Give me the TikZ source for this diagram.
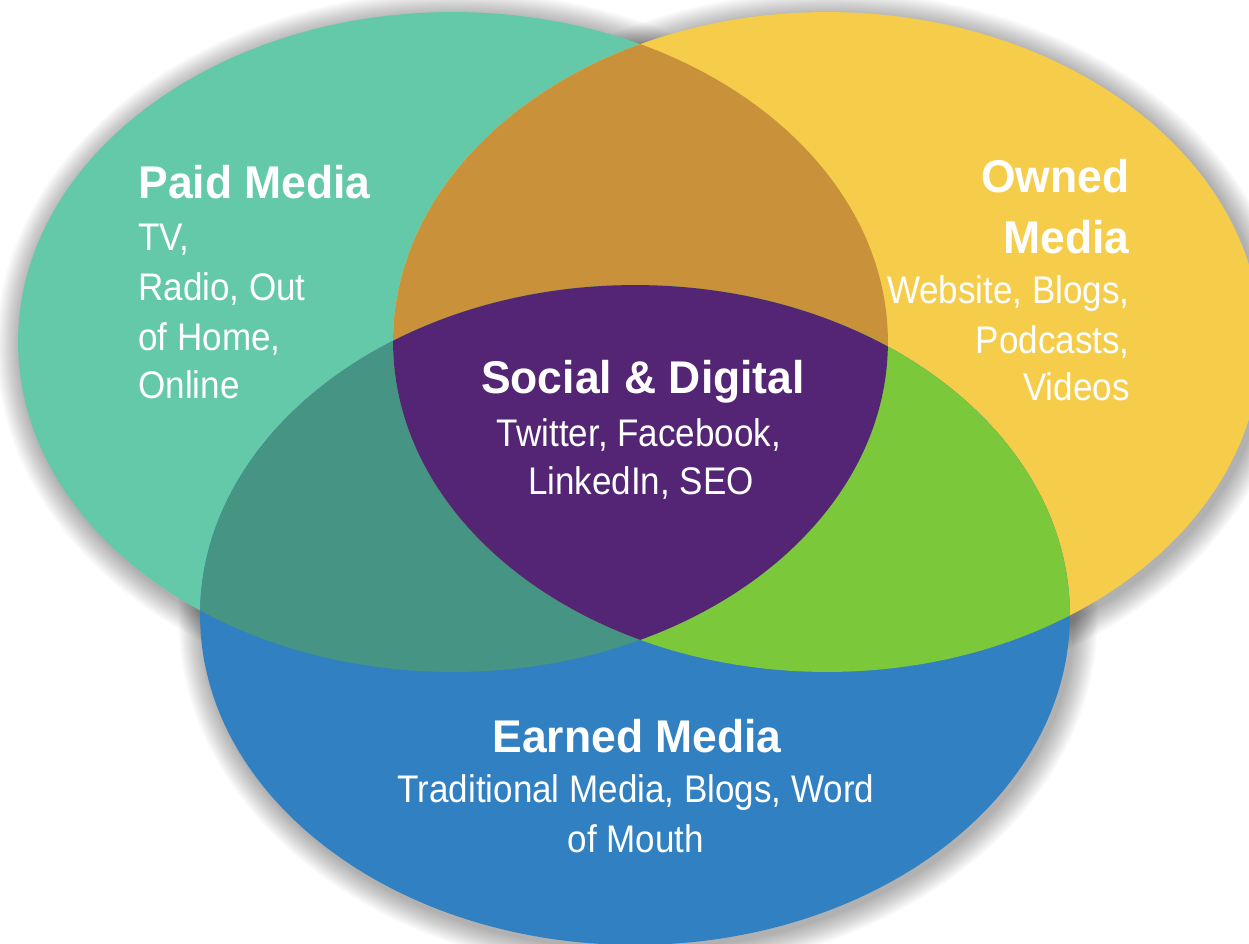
\documentclass[tikz,border=0pt]{standalone}
\usepackage{fontspec}
\setmainfont{Liberation Sans}
\newfontfamily\headfont[FakeStretch=0.97]{Liberation Sans}
\newfontfamily\itemfont[FakeStretch=0.91]{Liberation Sans}

\definecolor{paidcol}{HTML}{64C9A9}
\definecolor{ownedcol}{HTML}{F6CD4A}
\definecolor{earnedcol}{HTML}{3180C2}
\definecolor{paidowned}{HTML}{C9913A}
\definecolor{paidearned}{HTML}{459484}
\definecolor{ownedearned}{HTML}{7BC83A}
\definecolor{centrecol}{HTML}{532574}

\tikzset{
  x=0.02cm, y=-0.02cm,
  paidshape/.style={insert path={(paidC) ellipse [x radius=8.7cm, y radius=6.6cm]}},
  ownedshape/.style={insert path={(ownedC) ellipse [x radius=8.68cm, y radius=6.6cm]}},
  earnedshape/.style={insert path={(earnedC) ellipse [x radius=8.7cm, y radius=6.6cm]}},
  headline/.style={text=white, inner sep=0pt, font=\headfont\bfseries\fontsize{26.1}{30}\selectfont},
  itemline/.style={text=white, inner sep=0pt, font=\itemfont\fontsize{21.9}{28}\selectfont},
}

\begin{document}
\begin{tikzpicture}
  \useasboundingbox (0,0) rectangle (1249,944);
  \clip (0,0) rectangle (1249,944);
  \fill[white] (0,0) rectangle (1249,944);

  \coordinate (paidC) at (453,342);
  \coordinate (ownedC) at (827,342);
  \coordinate (earnedC) at (635,615);

  % soft drop shadow under the three sets
  \foreach \c in {paidC, ownedC, earnedC}{
    \foreach \i in {1,...,14}{
      \fill[black, opacity=0.022]
        ([shift={(3,4)}]\c) ellipse [x radius={8.7cm+\i*0.035cm}, y radius={6.6cm+\i*0.035cm}];
    }
  }

  % the three sets
  \fill[paidcol, paidshape];
  \fill[ownedcol, ownedshape];
  \fill[earnedcol, earnedshape];

  % pairwise overlaps
  \begin{scope}
    \clip[paidshape];
    \fill[paidowned, ownedshape];
    \fill[paidearned, earnedshape];
  \end{scope}
  \begin{scope}
    \clip[ownedshape];
    \fill[ownedearned, earnedshape];
  \end{scope}
  % centre: all three sets
  \begin{scope}
    \clip[paidshape];
    \clip[ownedshape];
    \fill[centrecol, earnedshape];
  \end{scope}

  % Paid Media
  \node[headline, anchor=base west] (paidT) at (138,198) {Paid Media};
  \node[itemline, anchor=base west] (paid1) at (138,250) {TV,};
  \node[itemline, anchor=base west] (paid2) at (138,300) {Radio, Out};
  \node[itemline, anchor=base west] (paid3) at (138,350) {of Home,};
  \node[itemline, anchor=base west] (paid4) at (138,398) {Online};

  % Owned Media
  \node[headline, anchor=base east] (ownedT1) at (1130,192) {Owned};
  \node[headline, anchor=base east] (ownedT2) at (1130,253) {Media};
  \node[itemline, anchor=base east] (owned1) at (1130,303) {Website, Blogs,};
  \node[itemline, anchor=base east] (owned2) at (1130,353) {Podcasts,};
  \node[itemline, anchor=base east] (owned3) at (1130,400) {Videos};

  % Social & Digital
  \node[headline, anchor=base] (socialT) at (643,393) {Social \& Digital};
  \node[itemline, anchor=base] (social1) at (639,446) {Twitter, Facebook,};
  \node[itemline, anchor=base] (social2) at (641,494) {LinkedIn, SEO};

  % Earned Media
  \node[headline, anchor=base] (earnedT) at (637,752) {Earned Media};
  \node[itemline, anchor=base] (earned1) at (636,802) {Traditional Media, Blogs, Word};
  \node[itemline, anchor=base] (earned2) at (636,852) {of Mouth};
\end{tikzpicture}
\end{document}
